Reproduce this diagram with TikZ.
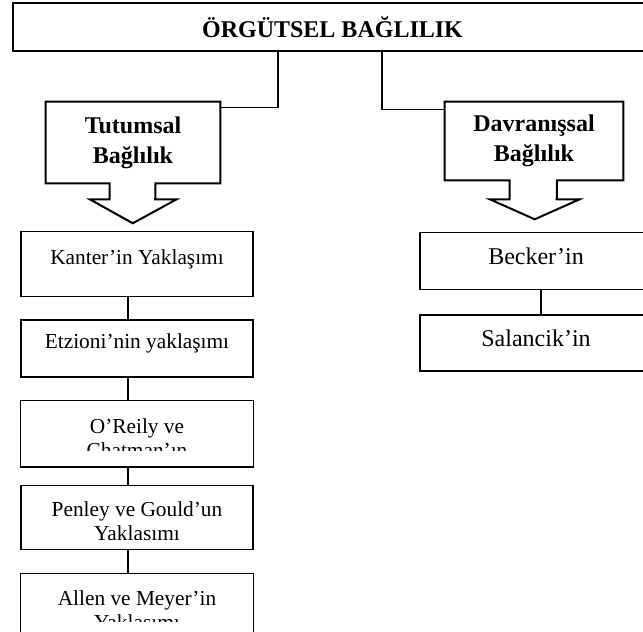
\documentclass[tikz,border=0pt]{standalone}
\usepackage{fontspec}
\setmainfont{Liberation Serif}
\usepackage{tikz}

\begin{document}
\begin{tikzpicture}[x=0.75pt,y=-0.75pt,
  ana/.style={rectangle,draw,line width=1.5pt,minimum width=479.25pt,minimum height=36pt,font=\bfseries\fontsize{18}{22}\selectfont},
  grp/.style={rectangle,align=center,font=\bfseries\fontsize{18}{22.5}\selectfont},
  cg/.style={line width=1.5pt,line join=miter},
  kutu/.style={rectangle,draw,line width=1pt,minimum width=174pt,align=center,font=\fontsize{16}{18}\selectfont},
  tek/.style={kutu,text height=9pt,text depth=9pt},
  sag/.style={tek,text height=12pt,text depth=7pt,font=\fontsize{18}{20}\selectfont}]
  \useasboundingbox (0,0) rectangle (643,632);

  \node[ana] (org) at (332.5,27) {ÖRGÜTSEL BAĞLILIK};
  \node[grp,minimum width=130.5pt,minimum height=60.75pt] (tut) at (133,142.5) {Tutumsal\\Bağlılık};
  \node[grp,minimum width=133.5pt,minimum height=58.5pt] (dav) at (534,141) {Davranışsal\\Bağlılık};

  \draw[cg] (tut.south) ++(22.5,0) -- (tut.south east) -- (tut.north east) -- (tut.north west) -- (tut.south west) -- ++(64,0) -- ++(0,16) -- ++(-20,0) -- ++(43,24) -- ++(44,-24) -- ++(-21.5,0) -- cycle;
  \draw[cg] (dav.south) ++(23,0) -- (dav.south east) -- (dav.north east) -- (dav.north west) -- (dav.south west) -- ++(65,0) -- ++(0,19) -- ++(-20,0) -- ++(45,20) -- ++(45,-20) -- ++(-23,0) -- cycle;

  \draw[line width=1.1pt] (org.south) ++(-54.5,0) |- ([yshift=-4.5pt]tut.north east);
  \draw[line width=1.1pt] (org.south) ++(49.5,0) |- ([yshift=-6pt]dav.north west);

  \node[tek,anchor=north,minimum height=48.75pt] (kan) at (137,231) {Kanter’in Yaklaşımı};
  \node[tek,below=16.5pt,minimum height=42.75pt] (etz) at (kan.south) {Etzioni’nin yaklaşımı};
  \begin{scope}
    \clip (0,390) rectangle (300,450.5);
    \node[kutu,draw=none,below=17.25pt,minimum height=48.75pt] (ore) at (etz.south) {\rule{0pt}{17pt}O’Reily ve\\Chatman’ın};
  \end{scope}
  \draw[line width=1pt] (ore.north west) rectangle (ore.south east);
  \node[kutu,below=13.5pt,minimum height=48pt] (pen) at (ore.south) {\rule{0pt}{17pt}Penley ve Gould’un\\Yaklasımı};
  \begin{scope}
    \clip (0,560) rectangle (300,621);
    \node[kutu,draw=none,below=17.25pt,minimum height=48pt] (all) at (pen.south) {\rule{0pt}{17pt}Allen ve Meyer’in\\Yaklasımı};
  \end{scope}
  \draw[line width=1pt] (all.north west) rectangle (all.south east);

  \node[sag,anchor=north,minimum height=42.75pt] (bec) at (536,232) {Becker’in};
  \node[sag,below=18pt,minimum height=42pt] (sal) at (bec.south) {Salancik’in};

  \draw[line width=1pt] ([xshift=-6.75pt]kan.south) -- ([xshift=-6.75pt]etz.north);
  \draw[line width=1pt] ([xshift=-6.75pt]etz.south) -- ([xshift=-6.75pt]ore.north);
  \draw[line width=1pt] ([xshift=-6.75pt]ore.south) -- ([xshift=-6.75pt]pen.north);
  \draw[line width=1pt] ([xshift=-6.75pt]pen.south) -- ([xshift=-6.75pt]all.north);
  \draw[line width=1pt] ([xshift=3.75pt]bec.south) -- ([xshift=3.75pt]sal.north);
\end{tikzpicture}
\end{document}
